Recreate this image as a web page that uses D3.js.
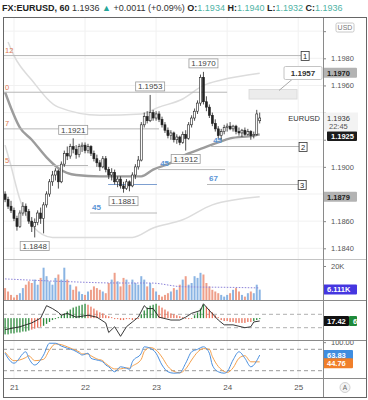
<!DOCTYPE html>
<html>
<head>
<meta charset="utf-8">
<script src="https://cdn.jsdelivr.net/npm/d3@7/dist/d3.min.js"></script>
<style>
    body { margin: 0; background: #fff; }
    svg { display: block; }
    text { white-space: pre; }
</style>
</head>
<body>
<script>
const WIDTH = 368
const HEIGHT = 400
const FONT = "'Liberation Sans', Arial, sans-serif"

// EURUSD 60 min candles starting Sun 20 Jun 2021 21:00 UTC: open, high, low, close
const candles = [
    [1.1880, 1.1882, 1.1874, 1.1876], [1.1876, 1.1878, 1.1869, 1.1871], [1.1871, 1.1875, 1.1866, 1.1868],
    [1.1868, 1.1870, 1.1860, 1.1862], [1.1862, 1.1864, 1.1853, 1.1856], [1.1856, 1.1868, 1.1855, 1.1866],
    [1.1866, 1.1874, 1.1864, 1.1871], [1.1871, 1.1873, 1.1864, 1.1867], [1.1867, 1.1869, 1.1858, 1.1860],
    [1.1860, 1.1863, 1.1852, 1.1856], [1.1856, 1.1862, 1.1848, 1.1859], [1.1859, 1.1868, 1.1857, 1.1866],
    [1.1866, 1.1870, 1.1858, 1.1862], [1.1862, 1.1874, 1.1851, 1.1872], [1.1872, 1.1882, 1.1870, 1.1880],
    [1.1880, 1.1891, 1.1878, 1.1889], [1.1889, 1.1897, 1.1886, 1.1894], [1.1894, 1.1899, 1.1890, 1.1897],
    [1.1897, 1.1898, 1.1884, 1.1889], [1.1889, 1.1904, 1.1888, 1.1902], [1.1902, 1.1912, 1.1900, 1.1910],
    [1.1910, 1.1915, 1.1905, 1.1908], [1.1908, 1.1917, 1.1906, 1.1915], [1.1915, 1.1921, 1.1910, 1.1913],
    [1.1913, 1.1916, 1.1906, 1.1909], [1.1909, 1.1917, 1.1907, 1.1915], [1.1915, 1.1918, 1.1911, 1.1916],
    [1.1916, 1.1918, 1.1910, 1.1912], [1.1912, 1.1917, 1.1910, 1.1915], [1.1915, 1.1916, 1.1908, 1.1910],
    [1.1910, 1.1912, 1.1904, 1.1906], [1.1906, 1.1909, 1.1900, 1.1903], [1.1903, 1.1905, 1.1897, 1.1900],
    [1.1900, 1.1908, 1.1899, 1.1906], [1.1906, 1.1908, 1.1896, 1.1898], [1.1898, 1.1900, 1.1891, 1.1894],
    [1.1894, 1.1899, 1.1890, 1.1896], [1.1896, 1.1898, 1.1887, 1.1889], [1.1889, 1.1893, 1.1885, 1.1891],
    [1.1891, 1.1893, 1.1884, 1.1886], [1.1886, 1.1889, 1.1881, 1.1884], [1.1884, 1.1891, 1.1883, 1.1889],
    [1.1889, 1.1890, 1.1882, 1.1886], [1.1886, 1.1896, 1.1885, 1.1894], [1.1894, 1.1902, 1.1891, 1.1900],
    [1.1900, 1.1908, 1.1898, 1.1905], [1.1905, 1.1933, 1.1904, 1.1931], [1.1931, 1.1940, 1.1929, 1.1937],
    [1.1937, 1.1941, 1.1932, 1.1934], [1.1934, 1.1953, 1.1933, 1.1940], [1.1940, 1.1942, 1.1934, 1.1936],
    [1.1936, 1.1941, 1.1934, 1.1939], [1.1939, 1.1941, 1.1933, 1.1935], [1.1935, 1.1937, 1.1929, 1.1931],
    [1.1931, 1.1933, 1.1925, 1.1927], [1.1927, 1.1929, 1.1921, 1.1923], [1.1923, 1.1927, 1.1920, 1.1925],
    [1.1925, 1.1926, 1.1918, 1.1920], [1.1920, 1.1924, 1.1917, 1.1922], [1.1922, 1.1923, 1.1916, 1.1918],
    [1.1918, 1.1926, 1.1917, 1.1924], [1.1924, 1.1927, 1.1912, 1.1921], [1.1921, 1.1933, 1.1920, 1.1931],
    [1.1931, 1.1938, 1.1929, 1.1936], [1.1936, 1.1943, 1.1934, 1.1941], [1.1941, 1.1949, 1.1939, 1.1947],
    [1.1947, 1.1968, 1.1945, 1.1966], [1.1966, 1.1970, 1.1946, 1.1948], [1.1948, 1.1952, 1.1941, 1.1944],
    [1.1944, 1.1946, 1.1936, 1.1938], [1.1938, 1.1940, 1.1930, 1.1932], [1.1932, 1.1935, 1.1926, 1.1928],
    [1.1928, 1.1930, 1.1921, 1.1923], [1.1923, 1.1928, 1.1920, 1.1926], [1.1926, 1.1931, 1.1924, 1.1929],
    [1.1929, 1.1932, 1.1926, 1.1930], [1.1930, 1.1933, 1.1927, 1.1928], [1.1928, 1.1931, 1.1926, 1.1930],
    [1.1930, 1.1931, 1.1924, 1.1926], [1.1926, 1.1929, 1.1923, 1.1925], [1.1925, 1.1928, 1.1922, 1.1927],
    [1.1927, 1.1929, 1.1923, 1.1924], [1.1924, 1.1928, 1.1923, 1.1926], [1.1926, 1.1927, 1.1920, 1.1923],
    [1.1923, 1.1926, 1.1921, 1.1924], [1.1924, 1.1942, 1.1923, 1.1939], [1.1934, 1.1940, 1.1932, 1.1936]
]

// volume per bar, thousands
const volumes = [
    7, 5, 3, 1.5, 3, 4, 7, 9, 11, 10,
    12, 9, 13, 19, 14, 11, 9, 13, 15, 12,
    19, 12, 9, 6, 8, 5, 3.5, 3, 5, 6,
    8, 7, 6, 5, 4, 10, 12, 16, 11, 8,
    13, 12, 9, 12, 10, 9, 14, 12, 8, 10,
    7, 5, 3, 2, 3, 4, 5, 7, 6, 9,
    12, 14, 9, 10, 14, 13, 16, 15, 10, 8,
    6, 5, 4, 3, 2, 3, 4, 6, 7, 5,
    3, 2, 4, 5, 4, 9, 6.111
]
// volume average, [bar, thousands]
const volumeAverage = [[0, 12.4], [21, 10.8], [38, 10], [49, 10], [60, 7.8], [77, 7.4], [86, 7.1]]

// oscillator histogram per bar and its colour (g / r)
const histogram = [
    -17, -17, -16, -16, -15, -15, -14, -14, -13,
    -12, -11, -10, -9,
    -8, -6, -4, -2, -1, 1,
    3, 5, 7, 9, 11, 12, 13, 14, 15,
    14, 12, 10, 8, 6, 5, 3, 2, 1,
    -1, -1, -2, -2, -1, -1, -2, -1, 0,
    4, 8, 11, 13, 14, 15,
    13, 11, 9, 7, 5, 4, 3, 2, 1,
    0, -1, 0,
    3, 6, 10, 14,
    12, 9, 6, 3, 1,
    -2, -3, -3, -4, -4, -5, -5, -5, -5, -4, -4,
    -3, -2, -1
]
const histColours = "ggggggggg" + "rrrr" + "gggggg" + "ggggggggg" + "rrrrrrrrr" + "rrrrrrrrr" +
    "gggggg" + "rrrrrrrrr" + "rrr" + "gggg" + "rrrrr" + "rrrrrrrrrrr" + "ggg"
// oscillator line, [bar, value]
const oscillator = [
    [0, -12], [5, -9], [9, -5], [12, 0], [14, 13], [16, 10], [18, 6], [19, 3], [21, 5], [24, 1],
    [28, 3], [31, 1], [34, -5], [35, -15], [37, -9], [39, -19], [41, -9], [43, -4], [45, 1], [47, 13],
    [48, 10], [50, 10], [52, 1], [56, -2], [59, -2], [61, 1], [63, 5], [66, 8], [67, 15], [69, 8],
    [72, -2], [74, -7], [77, -7], [81, -10], [83, -9], [84, -4], [86, -3]
]

// stochastic, sampled bars
const stochBars = [0, 1, 3, 7, 8, 10, 13, 15, 17, 19, 21, 23, 25, 26, 28, 29, 31, 33, 34, 35, 37, 39, 41, 42,
    43, 46, 47, 49, 51, 53, 55, 57, 59, 61, 63, 65, 67, 69, 70, 72, 74, 75, 77, 79, 81, 83, 86]
const stochK = [69, 55, 41, 73, 55, 36, 64, 97, 97, 89, 83, 78, 69, 64, 69, 55, 50, 45, 36, 31, 17, 31, 27, 24,
    45, 69, 87, 83, 69, 36, 17, 13, 14, 41, 73, 80, 87, 69, 36, 17, 13, 17, 50, 73, 55, 31, 63.83]
const stochD = [72, 62, 48, 57, 62, 48, 52, 78, 95, 93, 87, 80, 73, 67, 67, 62, 53, 48, 40, 34, 25, 25, 28, 27,
    33, 52, 74, 85, 78, 58, 32, 18, 14, 25, 50, 72, 82, 80, 60, 32, 18, 15, 28, 55, 62, 45, 44.76]

// overlays on the price pane, [bar, price]
const movingAverage = [[0, 1.1955], [5, 1.1929], [9, 1.1920], [14, 1.1907], [18, 1.1899], [24, 1.1894],
    [32, 1.1893], [42, 1.1893], [46, 1.1893], [50, 1.1898], [56, 1.1903], [61, 1.1909], [67, 1.1914],
    [72, 1.1918], [76, 1.1921], [84, 1.1923], [86, 1.1924]]
const upperBand = [[1, 1.1992], [3, 1.1982], [9, 1.1964], [18, 1.1944], [32, 1.1938], [46, 1.1939],
    [52, 1.1944], [60, 1.1950], [67, 1.1960], [73, 1.1964], [86, 1.1969]]
const lowerBand = [[0, 1.1916], [1.7, 1.1903], [5, 1.1876], [9.4, 1.1856], [16, 1.1848], [30, 1.1848],
    [43, 1.1848], [50, 1.1855], [60, 1.1861], [70, 1.1872], [86, 1.1878]]

const fibLevels = [
    { label: "12", price: 1.1982, end: 100, tag: "1" },
    { label: "0", price: 1.1955, end: 75 },
    { label: "7", price: 1.1928, end: 52 },
    { label: "5", price: 1.1901, end: 28 }
]
const angleLines = [
    { label: "45", price: 1.1915, start: 69.6, end: 99.3, tag: "2" },
    { label: "45", price: 1.1898, start: 51.7, end: 74.3 },
    { label: "", price: 1.1887, start: 34.8, end: 51.3, blue: true },
    { label: "45", price: 1.1866, start: 28.7, end: 51.3 },
    { label: "67", price: 1.1887, start: 68.2, end: 99, tag: "3" }
]
const extremes = [
    { bar: 10, price: 1.1848, side: "low" },
    { bar: 23, price: 1.1921, side: "high" },
    { bar: 40, price: 1.1881, side: "low" },
    { bar: 49, price: 1.1953, side: "high" },
    { bar: 61, price: 1.1912, side: "low" },
    { bar: 67, price: 1.1970, side: "high" }
]
const zone = { top: 1.1957, bottom: 1.1950, start: 82.4, end: 98.6 }

const priceTicks = [1.1840, 1.1860, 1.1880, 1.1900, 1.1920, 1.1940, 1.1960, 1.1980, 1.2000]
// tick labels hidden behind the value boxes on the axis
const hiddenTicks = [1.1880, 1.1920, 1.1940, 1.2000]
const dayTicks = [21, 22, 23, 24, 25]

const PANE = {
    left: 3, right: 323, edge: 366,
    top: 17, price: 259, volume: 300, macd: 340, stoch: 378, bottom: 397
}

const T0 = Date.UTC(2021, 5, 20, 21)
const HOUR = 3600000

const x = d3.scaleUtc()
    .domain([new Date(T0), new Date(T0 + 86 * HOUR)])
    .range([5.1, 259.7])
const bx = i => x(new Date(T0 + i * HOUR))

const y = d3.scaleLinear().domain([1.1840, 1.1980]).range([248.3, 58.3])
const yVol = d3.scaleLinear().domain([0, 20]).range([300, 266])
const yHist = d3.scaleLinear().domain([-10, 4]).range([327.7, 314.3])
const yStoch = d3.scaleLinear().domain([20, 80]).range([370.7, 349.3])

const svg = d3
    .select("body")
    .append("svg")
    .attr("width", WIDTH)
    .attr("height", HEIGHT)
    .attr("font-family", FONT)

svg.append("rect").attr("width", WIDTH).attr("height", HEIGHT).attr("fill", "#fff")

const defs = svg.append("defs")
const addClip = (id, y0, y1) => defs
    .append("clipPath")
    .attr("id", id)
    .append("rect")
    .attr("x", PANE.left)
    .attr("y", y0)
    .attr("width", PANE.right - PANE.left)
    .attr("height", y1 - y0)
addClip("clip-price", PANE.top, PANE.price)
addClip("clip-vol", PANE.price, PANE.volume)
addClip("clip-macd", PANE.volume, PANE.macd)
addClip("clip-stoch", PANE.macd, PANE.stoch)

// header
const header = svg.append("text").attr("x", 2).attr("y", 10.5).attr("font-size", 9)
const headerParts = [
    ["FX:EURUSD, 60 ", "bold", "#222"], ["1.1936 ", "normal", "#333"], ["\u25B2 ", "normal", "#26a69a"],
    ["+0.0011 (+0.09%) ", "normal", "#333"],
    ["O:", "bold", "#222"], ["1.1934 ", "normal", "#4fb3a5"],
    ["H:", "bold", "#222"], ["1.1940 ", "normal", "#4fb3a5"],
    ["L:", "bold", "#222"], ["1.1932 ", "normal", "#4fb3a5"],
    ["C:", "bold", "#222"], ["1.1936", "normal", "#4fb3a5"]
]
headerParts.forEach(p => {
    header.append("tspan").text(p[0]).attr("font-weight", p[1]).attr("fill", p[2])
})

// grid
const grid = svg.append("g").attr("stroke", "#f1f1f1").attr("stroke-width", 1)
grid.selectAll(".vgrid")
    .data(dayTicks)
    .enter()
    .append("line")
    .attr("x1", d => x(new Date(Date.UTC(2021, 5, d))))
    .attr("x2", d => x(new Date(Date.UTC(2021, 5, d))))
    .attr("y1", PANE.top)
    .attr("y2", PANE.stoch)
grid.selectAll(".hgrid")
    .data(priceTicks)
    .enter()
    .append("line")
    .attr("x1", PANE.left)
    .attr("x2", PANE.right)
    .attr("y1", d => y(d))
    .attr("y2", d => y(d))

// price pane
const price = svg.append("g").attr("clip-path", "url(#clip-price)")

const curve = scale => d3.line()
    .x(d => bx(d[0]))
    .y(d => scale(d[1]))
    .curve(d3.curveMonotoneX)

price.append("path").datum(upperBand).attr("d", curve(y))
    .attr("fill", "none").attr("stroke", "#dcdcdc").attr("stroke-width", 1.5)
price.append("path").datum(lowerBand).attr("d", curve(y))
    .attr("fill", "none").attr("stroke", "#dcdcdc").attr("stroke-width", 1.5)
price.append("path").datum(movingAverage).attr("d", curve(y))
    .attr("fill", "none").attr("stroke", "#9c9c9c").attr("stroke-width", 2.4)

fibLevels.forEach(l => {
    price.append("line")
        .attr("x1", PANE.left).attr("x2", bx(l.end))
        .attr("y1", y(l.price)).attr("y2", y(l.price))
        .attr("stroke", "#b8b8b8")
    price.append("text")
        .attr("x", 5).attr("y", y(l.price) - 2.5)
        .attr("font-size", 7.5).attr("fill", "#e07b53")
        .text(l.label)
})

angleLines.forEach(l => {
    price.append("line")
        .attr("x1", bx(l.start)).attr("x2", bx(l.end))
        .attr("y1", y(l.price)).attr("y2", y(l.price))
        .attr("stroke", l.blue ? "#7d9fd0" : "#b8b8b8")
    price.append("text")
        .attr("x", bx(l.start) + 2).attr("y", y(l.price) - 3.5)
        .attr("font-size", 8).attr("font-weight", "bold").attr("fill", "#5b95d6")
        .text(l.label)
})

// candles
price.selectAll(".candle")
    .data(candles)
    .enter()
    .append("g")
    .attr("class", "candle")
    .each(function (d, i) {
        const g = d3.select(this)
        const cx = bx(i)
        const up = d[3] >= d[0]
        g.append("line")
            .attr("x1", cx).attr("x2", cx)
            .attr("y1", y(d[1])).attr("y2", y(d[2]))
            .attr("stroke", "#222").attr("stroke-width", 0.8)
        g.append("rect")
            .attr("x", cx - 1).attr("width", 2)
            .attr("y", y(Math.max(d[0], d[3])))
            .attr("height", Math.max(1, Math.abs(y(d[0]) - y(d[3]))))
            .attr("fill", up ? "#fff" : "#222")
            .attr("stroke", "#222").attr("stroke-width", 0.6)
    })

// high / low labels
extremes.forEach(e => {
    const cx = bx(e.bar)
    const py = y(e.price)
    const top = e.side === "high" ? py - 13 : py + 4
    price.append("rect")
        .attr("x", cx - 14.5).attr("y", top).attr("width", 29).attr("height", 9)
        .attr("fill", "#fff").attr("fill-opacity", 0.9)
        .attr("stroke", "#9a9a9a").attr("stroke-width", 0.8)
    price.append("text")
        .attr("x", cx).attr("y", top + 7.3).attr("text-anchor", "middle")
        .attr("font-size", 8).attr("fill", "#444")
        .text(e.price.toFixed(4))
})

// target zone with callout
const zx0 = bx(zone.start)
const zx1 = bx(zone.end)
price.append("rect")
    .attr("x", zx0).attr("y", y(zone.top))
    .attr("width", zx1 - zx0).attr("height", y(zone.bottom) - y(zone.top))
    .attr("fill", "#ececec").attr("stroke", "#dcdcdc")
price.append("line")
    .attr("x1", zx1 - 5).attr("y1", y(zone.top) - 10)
    .attr("x2", zx1 - 18).attr("y2", y(zone.top) + 1)
    .attr("stroke", "#aaa")
svg.append("rect")
    .attr("x", zx1 - 13).attr("y", y(zone.top) - 23)
    .attr("width", 38).attr("height", 13)
    .attr("fill", "#fff").attr("stroke", "#c4c4c4").attr("rx", 1.5)
svg.append("text")
    .attr("x", zx1 + 6).attr("y", y(zone.top) - 13.5)
    .attr("text-anchor", "middle").attr("font-size", 8).attr("font-weight", "bold").attr("fill", "#333")
    .text(zone.top.toFixed(4))

// numbered tags at line ends
const tagged = fibLevels.concat(angleLines).filter(l => l.tag)
tagged.forEach(l => {
    const tx = bx(l.end)
    const ty = y(l.price)
    svg.append("rect")
        .attr("x", tx).attr("y", ty - 4).attr("width", 8).attr("height", 9)
        .attr("fill", "#fff").attr("stroke", "#333").attr("stroke-width", 0.8)
    svg.append("text")
        .attr("x", tx + 4).attr("y", ty + 3.3).attr("text-anchor", "middle")
        .attr("font-size", 7.5).attr("fill", "#222")
        .text(l.tag)
})

// volume pane
const vol = svg.append("g").attr("clip-path", "url(#clip-vol)")
vol.selectAll(".vbar")
    .data(volumes)
    .enter()
    .append("rect")
    .attr("x", (_, i) => bx(i) - 1)
    .attr("width", 2)
    .attr("y", d => yVol(d))
    .attr("height", d => yVol(0) - yVol(d))
    .attr("fill", (_, i) => candles[i][3] >= candles[i][0] ? "#8ab4e3" : "#ee9f8a")
vol.append("path")
    .datum(volumeAverage)
    .attr("d", curve(yVol))
    .attr("fill", "none")
    .attr("stroke", "#8c82d9")
    .attr("stroke-width", 1)
    .attr("stroke-dasharray", "1.5,1.5")

// histogram pane
const macd = svg.append("g").attr("clip-path", "url(#clip-macd)")
;[4, -10].forEach(v => {
    macd.append("line")
        .attr("x1", PANE.left).attr("x2", PANE.right)
        .attr("y1", yHist(v)).attr("y2", yHist(v))
        .attr("stroke", "#b0b0b0").attr("stroke-dasharray", "4,3")
})
macd.selectAll(".hbar")
    .data(histogram)
    .enter()
    .append("rect")
    .attr("x", (_, i) => bx(i) - 0.65)
    .attr("width", 1.3)
    .attr("y", d => Math.min(yHist(d), yHist(0)))
    .attr("height", d => Math.max(0.8, Math.abs(yHist(d) - yHist(0))))
    .attr("fill", (_, i) => histColours[i] === "g" ? "#2e8b3e" : "#e9735c")
macd.append("path")
    .datum(oscillator)
    .attr("d", d3.line().x(d => bx(d[0])).y(d => yHist(d[1])))
    .attr("fill", "none")
    .attr("stroke", "#222")
    .attr("stroke-width", 0.9)

// stochastic pane
const stoch = svg.append("g").attr("clip-path", "url(#clip-stoch)")
;[80, 20].forEach(v => {
    stoch.append("line")
        .attr("x1", PANE.left).attr("x2", PANE.right)
        .attr("y1", yStoch(v)).attr("y2", yStoch(v))
        .attr("stroke", "#9a9a9a").attr("stroke-dasharray", "4,3")
})
const stochLine = values => stochBars.map((b, i) => [b, values[i]])
stoch.append("path").datum(stochLine(stochD)).attr("d", curve(yStoch))
    .attr("fill", "none").attr("stroke", "#f4a04c").attr("stroke-width", 1)
stoch.append("path").datum(stochLine(stochK)).attr("d", curve(yStoch))
    .attr("fill", "none").attr("stroke", "#4a8fdf").attr("stroke-width", 1)

// price axis
const priceAxis = svg.append("g")
    .attr("transform", `translate(${PANE.right},0)`)
    .call(d3.axisRight(y)
        .tickValues(priceTicks)
        .tickSize(3)
        .tickPadding(5)
        .tickFormat(d => hiddenTicks.includes(d) ? "" : d3.format(".4f")(d)))
    .attr("font-family", FONT)
    .attr("font-size", 7.5)
priceAxis.select(".domain").remove()
priceAxis.selectAll("line").attr("stroke", "#888")
priceAxis.selectAll("text").attr("fill", "#555")

const volAxis = svg.append("g")
    .attr("transform", `translate(${PANE.right},0)`)
    .call(d3.axisRight(yVol).tickValues([20]).tickSize(3).tickPadding(5).tickFormat(d => d + "K"))
    .attr("font-family", FONT)
    .attr("font-size", 7.5)
volAxis.select(".domain").remove()
volAxis.selectAll("line").attr("stroke", "#888")
volAxis.selectAll("text").attr("fill", "#555")

const stochAxis = svg.append("g")
    .attr("clip-path", "url(#clip-stoch-axis)")
defs.append("clipPath").attr("id", "clip-stoch-axis")
    .append("rect").attr("x", PANE.right).attr("y", PANE.macd).attr("width", 45).attr("height", 38)
stochAxis.append("g")
    .attr("transform", `translate(${PANE.right},0)`)
    .call(d3.axisRight(yStoch).tickValues([100]).tickSize(3).tickPadding(5).tickFormat(d3.format(".2f")))
    .attr("font-family", FONT)
    .attr("font-size", 7.5)
    .call(g => g.select(".domain").remove())
    .call(g => g.selectAll("line").attr("stroke", "#888"))
    .call(g => g.selectAll("text").attr("fill", "#555"))

// axis value boxes
const axisBox = (cy, text, fill, colour, width, x0) => {
    svg.append("rect")
        .attr("x", x0 || PANE.right).attr("y", cy - 5)
        .attr("width", width || 34).attr("height", 10)
        .attr("fill", fill).attr("rx", 1)
    svg.append("text")
        .attr("x", (x0 || PANE.right) + 4).attr("y", cy + 2.8)
        .attr("font-size", 7.5).attr("font-weight", "bold").attr("fill", colour)
        .text(text)
}
axisBox(y(1.1970) + 1, "1.1970", "#b3b3b3", "#222")
axisBox(y(1.1879) + 1.5, "1.1879", "#b3b3b3", "#222")
axisBox(y(1.1925) + 3, "1.1925", "#1b1b1b", "#fff", 30, PANE.right + 4)
svg.append("rect")
    .attr("x", PANE.right).attr("y", y(1.1936) - 5.5)
    .attr("width", 35).attr("height", 19)
    .attr("fill", "#f3f3f3")
svg.append("text")
    .attr("x", PANE.right + 4).attr("y", y(1.1936) + 2.5)
    .attr("font-size", 7.5).attr("fill", "#333").text("1.1936")
svg.append("text")
    .attr("x", PANE.right + 6).attr("y", y(1.1936) + 10.5)
    .attr("font-size", 7.5).attr("fill", "#555").text("22:45")
svg.append("rect")
    .attr("x", 288).attr("y", y(1.1936) - 5)
    .attr("width", 34).attr("height", 10)
    .attr("fill", "#fff")
svg.append("text")
    .attr("x", 320).attr("y", y(1.1936) + 2.8).attr("text-anchor", "end")
    .attr("font-size", 7.5).attr("fill", "#333").text("EURUSD")

svg.append("rect")
    .attr("x", 336).attr("y", 23).attr("width", 18).attr("height", 9)
    .attr("fill", "#fff").attr("stroke", "#c8c8c8").attr("rx", 1.5)
svg.append("text")
    .attr("x", 345).attr("y", 30).attr("text-anchor", "middle")
    .attr("font-size", 7).attr("fill", "#777").text("USD")

axisBox(yVol(volumes[volumes.length - 1]), "6.111K", "#4536e0", "#fff")
axisBox(yHist(-3), "17.42", "#111", "#fff", 26)
axisBox(yHist(-3), "6", "#1e8a3a", "#fff", 8, PANE.right + 26)
axisBox(yStoch(stochK[stochK.length - 1]), "63.83", "#3f8de0", "#fff", 30)
axisBox(yStoch(stochD[stochD.length - 1]) + 1.5, "44.76", "#f07f2a", "#fff", 30)

// time axis
const timeAxis = svg.append("g")
    .attr("transform", `translate(0,${PANE.stoch + 2})`)
    .call(d3.axisBottom(x)
        .tickValues(dayTicks.map(d => new Date(Date.UTC(2021, 5, d))))
        .tickSize(0)
        .tickPadding(4)
        .tickFormat(d3.utcFormat("%-d")))
    .attr("font-family", FONT)
    .attr("font-size", 8)
timeAxis.select(".domain").remove()
timeAxis.selectAll("text").attr("fill", "#555")

svg.append("circle")
    .attr("cx", 345).attr("cy", 387.5).attr("r", 5)
    .attr("fill", "#f4f4f4").attr("stroke", "#d0d0d0")
svg.append("text")
    .attr("x", 345).attr("y", 390).attr("text-anchor", "middle")
    .attr("font-size", 6.5).attr("fill", "#666").text("A")

// separators and frame
const frame = svg.append("g").attr("stroke", "#8a8a8a").attr("fill", "none")
;[PANE.price, PANE.volume, PANE.macd, PANE.stoch].forEach(py => {
    frame.append("line")
        .attr("x1", PANE.left).attr("x2", PANE.edge)
        .attr("y1", py + 0.5).attr("y2", py + 0.5)
        .attr("stroke", py === PANE.price ? "#c4c4c4" : "#8a8a8a")
})
frame.append("line")
    .attr("x1", PANE.right + 0.5).attr("x2", PANE.right + 0.5)
    .attr("y1", PANE.top).attr("y2", PANE.bottom)
frame.append("rect")
    .attr("x", PANE.left + 0.5).attr("y", PANE.top + 0.5)
    .attr("width", PANE.edge - PANE.left).attr("height", PANE.bottom - PANE.top)
    .attr("stroke", "#666")
</script>
</body>
</html>
